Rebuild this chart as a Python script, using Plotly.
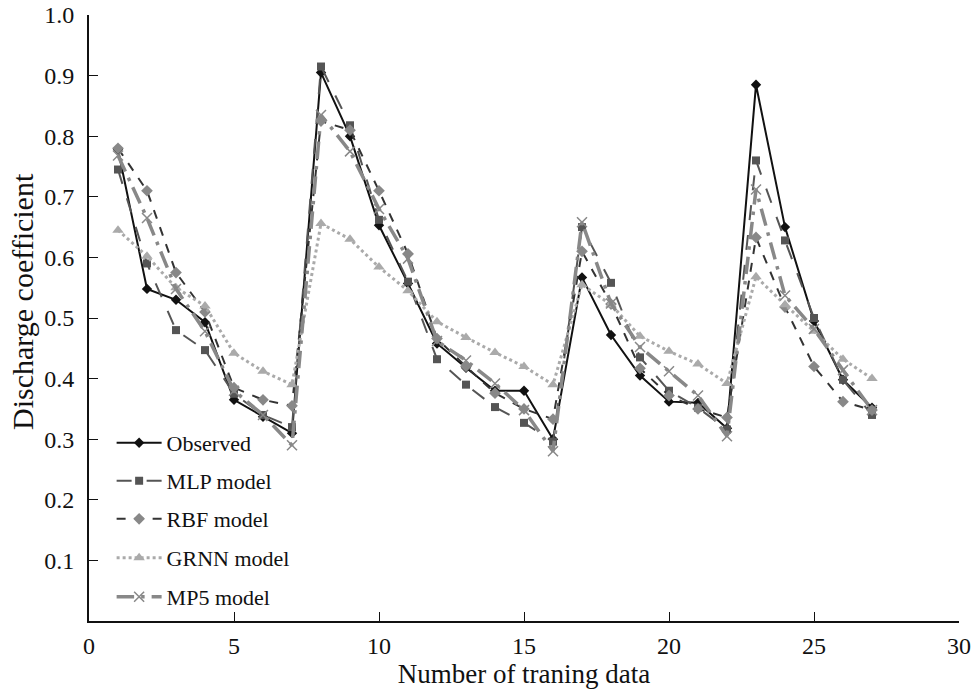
import plotly.graph_objects as go

x_vals = list(range(1, 28))

observed = [0.778, 0.548, 0.530, 0.493, 0.365, 0.337, 0.310, 0.905, 0.800, 0.653,
            0.557, 0.458, 0.418, 0.380, 0.380, 0.300, 0.567, 0.472, 0.405, 0.362,
            0.360, 0.318, 0.885, 0.650, 0.495, 0.398, 0.352]
mlp = [0.745, 0.590, 0.480, 0.447, 0.375, 0.340, 0.320, 0.915, 0.818, 0.662,
       0.560, 0.432, 0.390, 0.353, 0.327, 0.296, 0.650, 0.558, 0.435, 0.380,
       0.352, 0.316, 0.760, 0.628, 0.500, 0.398, 0.340]
rbf = [0.780, 0.710, 0.575, 0.510, 0.385, 0.365, 0.355, 0.825, 0.810, 0.710,
       0.606, 0.466, 0.420, 0.376, 0.350, 0.333, 0.610, 0.523, 0.417, 0.372,
       0.350, 0.336, 0.633, 0.518, 0.420, 0.362, 0.348]
grnn = [0.645, 0.602, 0.550, 0.520, 0.442, 0.412, 0.390, 0.656, 0.630, 0.584,
        0.545, 0.494, 0.468, 0.443, 0.420, 0.390, 0.555, 0.522, 0.470, 0.445,
        0.424, 0.392, 0.568, 0.522, 0.478, 0.432, 0.400]
mp5 = [0.768, 0.665, 0.548, 0.478, 0.380, 0.340, 0.290, 0.835, 0.775, 0.680,
       0.598, 0.462, 0.430, 0.392, 0.348, 0.280, 0.658, 0.524, 0.452, 0.412,
       0.372, 0.305, 0.712, 0.537, 0.482, 0.414, 0.348]

series_names = ["Observed", "MLP model", "RBF model", "GRNN model", "MP5 model"]
x_ticks = [0, 5, 10, 15, 20, 25, 30]
y_ticks = [0.1, 0.2, 0.3, 0.4, 0.5, 0.6, 0.7, 0.8, 0.9, 1.0]
y_tick_text = ["0.1", "0.2", "0.3", "0.4", "0.5", "0.6", "0.7", "0.8", "0.9", "1.0"]
x_title = "Number of traning data"
y_title = "Discharge coefficient"

FONT = "Liberation Serif"

styles = [
    dict(line=dict(color="#111111", width=2, dash="solid"),
         marker=dict(symbol="diamond", size=8, color="#111111")),
    dict(line=dict(color="#555555", width=2, dash="longdash"),
         marker=dict(symbol="square", size=8, color="#555555")),
    dict(line=dict(color="#333333", width=2, dash="dash"),
         marker=dict(symbol="diamond", size=9, color="#888888")),
    dict(line=dict(color="#aaaaaa", width=3, dash="dot"),
         marker=dict(symbol="triangle-up", size=10, color="#aaaaaa")),
    dict(line=dict(color="#888888", width=3.5, dash="longdashdot"),
         marker=dict(symbol="x-thin-open", size=10, color="#888888",
                     line=dict(width=1.5, color="#888888"))),
]

data = [observed, mlp, rbf, grnn, mp5]
legend_ids = ["legend", "legend2", "legend3", "legend4", "legend5"]
# legend item centres, in figure pixels from the top
legend_y_px = [443, 481, 519, 558, 597]

fig = go.Figure()
for name, vals, st, lid in zip(series_names, data, styles, legend_ids):
    fig.add_trace(go.Scatter(x=x_vals, y=vals, mode="lines+markers", name=name,
                             legend=lid, showlegend=True, **st))

W, H = 971, 689
M_L, M_R, M_T, M_B = 89, 12, 15, 68
plot_top, plot_bottom = M_T, H - M_B
plot_h = plot_bottom - plot_top
layout_legends = {}
for lid, ypx in zip(legend_ids, legend_y_px):
    layout_legends[lid] = dict(
        x=0.026, xanchor="left",
        y=(plot_bottom - ypx) / plot_h, yanchor="middle",
        bgcolor="rgba(0,0,0,0)", borderwidth=0,
        font=dict(family=FONT, size=22, color="#111111"),
        itemwidth=45,
    )

fig.update_layout(
    width=W, height=H,
    margin=dict(l=M_L, r=M_R, t=M_T, b=M_B),
    paper_bgcolor="white", plot_bgcolor="white",
    showlegend=True,
    font=dict(family=FONT, size=22, color="#111111"),
    **layout_legends,
)

# y-axis title as a rotated annotation (centred a little above the plot centre)
fig.add_annotation(
    text=y_title, textangle=-90, showarrow=False,
    xref="paper", yref="paper",
    x=-(M_L - 22) / (W - M_L - M_R), xanchor="center",
    y=(plot_bottom - 302) / plot_h, yanchor="middle",
    font=dict(family=FONT, size=30, color="#111111"),
)

fig.update_xaxes(
    range=[0, 30], tickvals=x_ticks, showgrid=False, zeroline=False,
    automargin=False, ticklabeloverflow="allow",
    showline=True, linecolor="#111111", linewidth=2,
    ticks="inside", ticklen=9, tickwidth=1.2, tickcolor="#111111",
    ticklabelstandoff=2,
    tickfont=dict(family=FONT, size=24, color="#111111"),
    title=dict(text=x_title, standoff=0,
               font=dict(family=FONT, size=27, color="#111111")),
)
fig.update_yaxes(
    range=[0, 1.0], tickvals=y_ticks, ticktext=y_tick_text, showgrid=False,
    automargin=False, ticklabeloverflow="allow",
    zeroline=False, showline=True, linecolor="#111111", linewidth=2,
    ticks="inside", ticklen=9, tickwidth=1.2, tickcolor="#111111",
    ticklabelstandoff=8,
    tickfont=dict(family=FONT, size=24, color="#111111"),
)

fig.write_html(
    "out.html",
    config={"displayModeBar": False},
    post_script="document.body.style.margin='0';document.body.style.overflow='hidden';",
)
